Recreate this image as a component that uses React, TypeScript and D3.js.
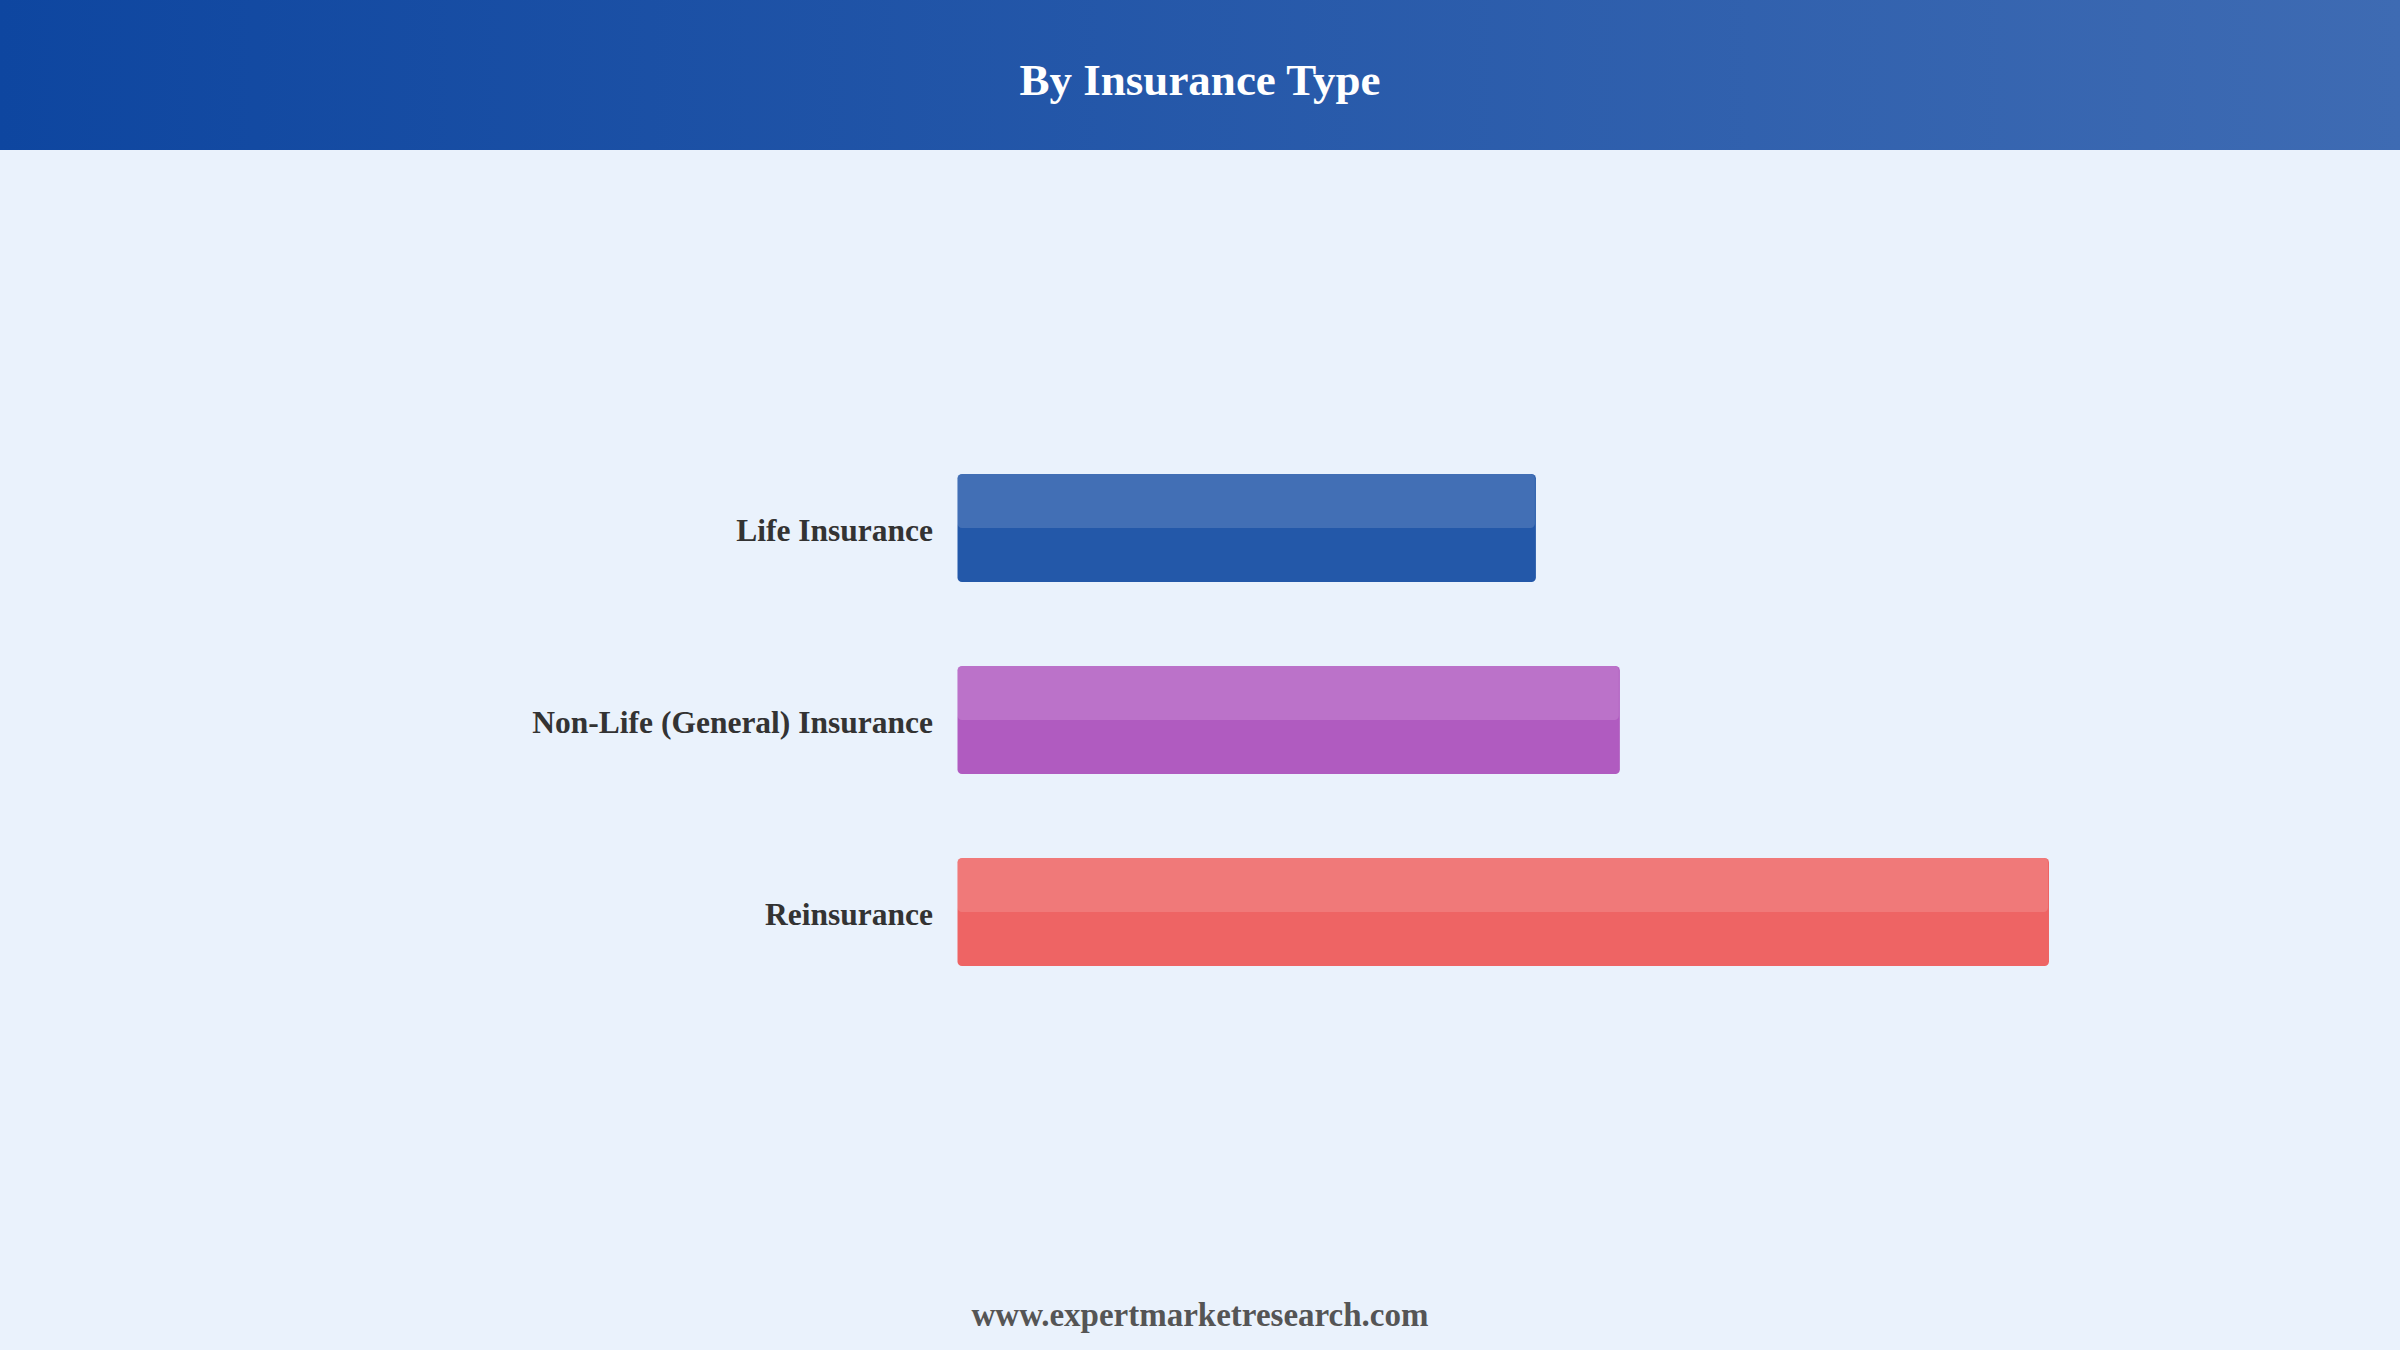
import React from "react";
import * as d3 from "d3";

const categories = ["Life Insurance", "Non-Life (General) Insurance", "Reinsurance"];
const values = [24.8, 28.4, 46.8];
const barColors = ["#2358a9", "#b05bc0", "#ee6464"];
const titleText = "By Insurance Type";
const footerText = "www.expertmarketresearch.com";

const W = 2400;
const H = 1350;

export default function App() {
  const x = d3.scaleLinear().domain([0, d3.max(values)!]).range([957.5, 2049]);
  const y = d3.scaleBand<string>().domain(categories).range([390, 1050]).paddingInner(0.4375).paddingOuter(0.4375);
  const bw = y.bandwidth();
  const font = "'Liberation Serif', 'Times New Roman', serif";
  return (
    <div style={{ position: "absolute", left: 0, top: 0, width: W, height: H, overflow: "hidden" }}>
      <svg width={W} height={H} style={{ display: "block" }}>
        <defs>
          <linearGradient id="hdr" x1="0" y1="0" x2="1" y2="0">
            <stop offset="0%" stopColor="#0e46a0" />
            <stop offset="100%" stopColor="#3e6bb3" />
          </linearGradient>
        </defs>
        <rect x={0} y={0} width={W} height={H} fill="#eaf2fc" />
        <rect x={0} y={0} width={W} height={150} fill="url(#hdr)" />
        <text x={W / 2} y={95} textAnchor="middle" fill="#ffffff" fontFamily={font} fontWeight="bold" fontSize={45}>
          {titleText}
        </text>
        {categories.map((c, i) => {
          const y0 = y(c)!;
          const x0 = x(0);
          const w = x(values[i]) - x0;
          return (
            <g key={c}>
              <text x={933} y={y0 + bw / 2} dy="0.4em" textAnchor="end" fill="#333333" fontFamily={font} fontWeight="bold" fontSize={31.5}>
                {c}
              </text>
              <rect x={x0} y={y0} width={w} height={bw} rx={4.5} ry={4.5} fill={barColors[i]} />
              <rect x={x0} y={y0} width={w - 1} height={bw / 2} rx={4.5} ry={4.5} fill="#ffffff" fillOpacity={0.14} />
            </g>
          );
        })}
        <text x={W / 2} y={1326} textAnchor="middle" fill="#555555" fontFamily={font} fontWeight="bold" fontSize={33}>
          {footerText}
        </text>
      </svg>
    </div>
  );
}
